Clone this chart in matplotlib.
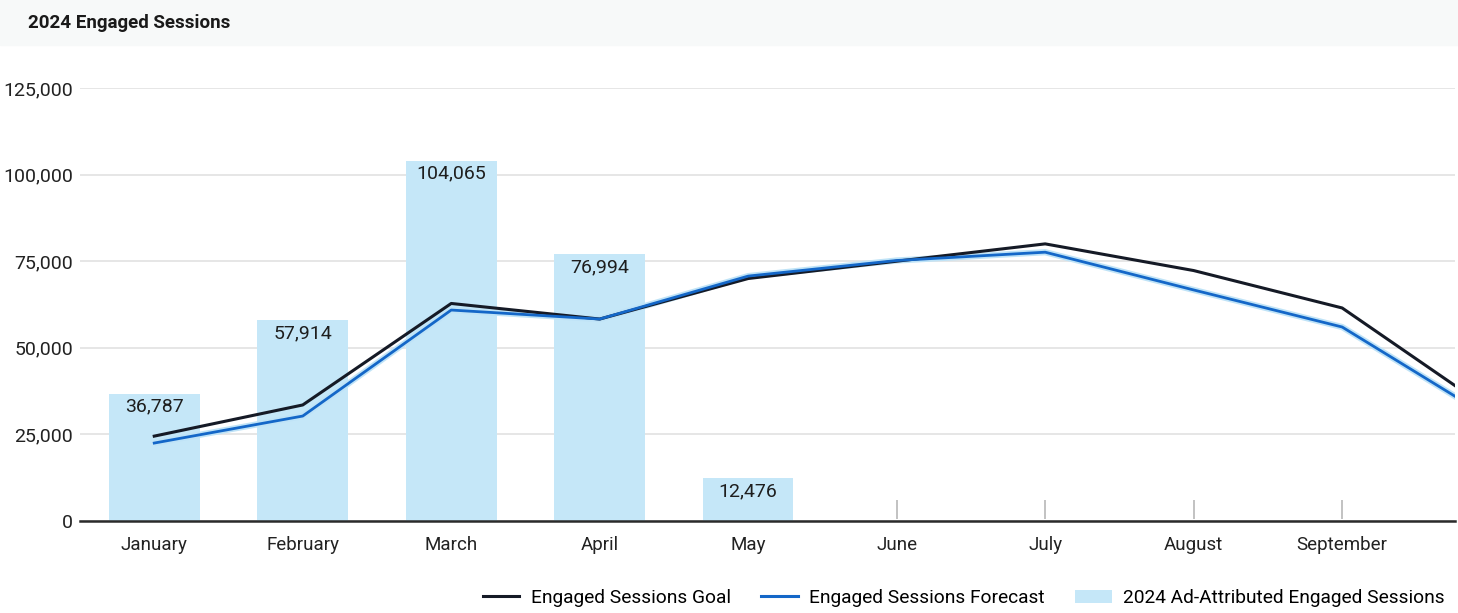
import matplotlib.pyplot as plt
from matplotlib.lines import Line2D
from matplotlib.patches import Patch
import numpy as np

plt.rcParams['font.family'] = ['Roboto', 'DejaVu Sans']

months = ["January", "February", "March", "April", "May", "June", "July", "August", "September", "October"]
bar_values = [36787, 57914, 104065, 76994, 12476]
goal = [24500, 33500, 62800, 58300, 70000, 75000, 80000, 72300, 61500, 32000]
forecast = [22500, 30300, 60900, 58300, 70700, 75200, 77600, 66700, 56000, 29700]
stub_values = [6000, 6000, 6000, 6000]  # faint marks at June-September
yticks = [0, 25000, 50000, 75000, 100000, 125000]

fig = plt.figure(figsize=(14.58, 6.13), dpi=100)
fig.patches.append(plt.Rectangle((0, 1 - 45/613), 1, 45/613, transform=fig.transFigure,
                                 color="#f7f9f9", zorder=0))
fig.text(28/1458, 1 - 23/613, "2024 Engaged Sessions", fontsize=13.5, fontweight="bold",
         va="center", ha="left", color="#1a1a1a")

ax = fig.add_axes([80/1458, 1 - 521/613, (1455-80)/1458, (521-88)/613])
x = np.arange(len(months))
xb = np.arange(len(bar_values))
ax.bar(xb, bar_values, width=0.61, color="#c5e7f8", zorder=2)
for xi, v in zip(xb, bar_values):
    ax.annotate(f"{v:,}", (xi, v), xytext=(0, -3), textcoords="offset points",
                ha="center", va="top", fontsize=14, color="#1e1e1e", zorder=5)
xs = np.arange(5, 5 + len(stub_values))
ax.vlines(xs, 700, stub_values, color="#b8b8b8", lw=1.2, zorder=2)

ax.plot(x, forecast, color="#bfe3f7", lw=4.5, zorder=3, solid_capstyle="butt")
ax.plot(x, goal, color="#151a26", lw=2.2, zorder=4)
ax.plot(x, forecast, color="#1467c8", lw=2.0, zorder=4)

ax.set_xlim(-0.5, 8.76)
ax.set_ylim(0, 125000)
ax.set_yticks(yticks)
ax.set_yticklabels([f"{t:,}" for t in yticks], fontsize=14, color="#222222")
ax.set_xticks(x[:9])
ax.set_xticklabels(months[:9], fontsize=13.5, color="#222222")
ax.tick_params(axis="both", length=0)
ax.tick_params(axis="x", pad=11)
ax.tick_params(axis="y", pad=5)
ax.grid(axis="y", color="#e2e2e2", lw=1.2, zorder=0)
ax.set_axisbelow(True)
for s in ["top", "right", "left"]:
    ax.spines[s].set_visible(False)
ax.spines["bottom"].set_color("#2a2a2a")
ax.spines["bottom"].set_linewidth(1.8)
ax.spines["bottom"].set_zorder(6)

handles = [Line2D([0], [0], color="#151a26", lw=2.2),
           Line2D([0], [0], color="#1467c8", lw=2.2),
           Patch(facecolor="#c5e7f8", edgecolor="none")]
labels = ["Engaged Sessions Goal", "Engaged Sessions Forecast", "2024 Ad-Attributed Engaged Sessions"]
fig.legend(handles, labels, loc="center right", bbox_to_anchor=(1445/1458, 1 - 598/613),
           ncol=3, frameon=False, fontsize=13.8, handlelength=1.9, columnspacing=1.6,
           handletextpad=0.6, borderpad=0, borderaxespad=0)

fig.savefig("out.png", dpi=100)
